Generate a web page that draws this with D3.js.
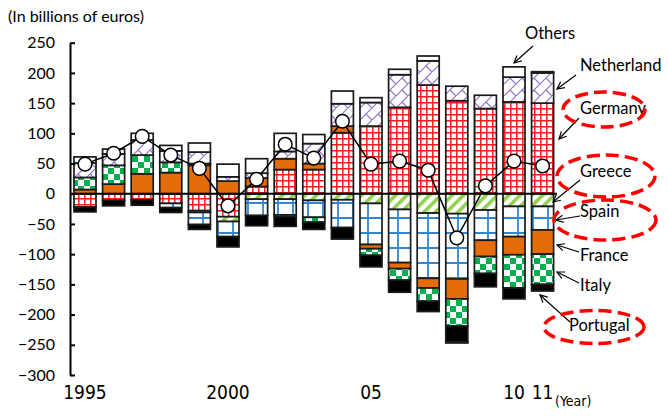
<!DOCTYPE html>
<html>
<head>
<meta charset="utf-8">
<script src="https://cdn.jsdelivr.net/npm/d3@7"></script>
<style>
  body { margin: 0; background: #fff; }
  svg { display: block; }
</style>
</head>
<body>
<svg id="chart" width="668" height="417"></svg>
<script>
// Balances by country, billions of euros
const years      = [1995, 1996, 1997, 1998, 1999, 2000, 2001, 2002, 2003, 2004, 2005, 2006, 2007, 2008, 2009, 2010, 2011];
const germany    = [-22, -11, -10, -16, -28, -38,  12,  40,  40, 101, 112, 143, 180, 154, 141, 152, 150];
const greece     = [  0,   0,   0,   0,  -3,  -8,  -9,  -9, -11, -10, -16, -26, -32, -33, -27, -21, -21];
const spain      = [  0,   0,   0,  -7, -20, -25, -27, -26, -28, -46, -68, -88,-108,-108, -50, -50, -39];
const france     = [  7,  16,  33,  35,  47,  21,  14,  18,  10,  11,  -7, -10, -16, -33, -27, -30, -40];
const italy      = [ 20,  31,  31,  17,   3,   0,   0,  -3,  -8,   0, -11, -19, -22, -45, -28, -55, -50];
const portugal   = [ -8,  -9,  -9,  -8,  -8, -17, -17, -16, -12, -19, -19, -20, -17, -26, -22, -18, -11];
const netherland = [ 24,  19,  25,  19,  19,   7,   8,  12,  33,  37,  39,  54,  40,  24,  22,  41,  50];
const others     = [ 10,   8,  11,   9,  15,  21,  24,  30,  15,  21,   8,   9,   8,  -2,   0,  17,   2];
const total      = [ 49,  67,  95,  64,  42, -20,  24,  82,  59, 120,  49,  54,  39, -73,  13,  54,  46];

const yTicks       = [250, 200, 150, 100, 50, 0, -50, -100, -150, -200, -250, -300];
const xLabelYears  = [1995, 2000, 2005, 2010, 2011];
const xLabelText   = ["1995", "2000", "05", "10", "11"];

const keys = ["Germany", "Greece", "Spain", "France", "Italy", "Portugal", "Netherland", "Others"];
const valuesByKey = {
  Germany: germany, Greece: greece, Spain: spain, France: france,
  Italy: italy, Portugal: portugal, Netherland: netherland, Others: others
};

const rows = years.map((yr, i) => {
  const r = { year: yr, total: total[i] };
  keys.forEach(k => { r[k] = valuesByKey[k][i]; });
  return r;
});

const svg = d3.select("#chart");

// ---------- fill patterns ----------
const defs = svg.append("defs");

function pattern(id, w, h, transform) {
  const p = defs.append("pattern")
    .attr("id", id)
    .attr("patternUnits", "userSpaceOnUse")
    .attr("width", w).attr("height", h);
  if (transform) p.attr("patternTransform", transform);
  p.append("rect").attr("width", w).attr("height", h).attr("fill", "#fff");
  return p;
}

// red grid
pattern("pat-germany", 6, 6)
  .append("path").attr("d", "M0,0.8H6M0.8,0V6")
  .attr("stroke", "#FF1A1A").attr("stroke-width", 1.5).attr("fill", "none");

// purple diagonal brick
pattern("pat-netherland", 12, 12)
  .append("path").attr("d", "M-1,13L13,-1M6,6L12,12M0,0L-1,-1")
  .attr("stroke", "#9473CA").attr("stroke-width", 1.2).attr("fill", "none");

// light green wide diagonal stripes
pattern("pat-greece", 8, 8, "rotate(45)")
  .append("rect").attr("x", 0).attr("y", 0).attr("width", 3.6).attr("height", 8)
  .attr("fill", "#92D050");

// blue grid
pattern("pat-spain", 15, 15)
  .append("path").attr("d", "M0,8H15M8,0V15")
  .attr("stroke", "#3385D0").attr("stroke-width", 1.8).attr("fill", "none");

// green checker
const pIt = pattern("pat-italy", 12, 12);
pIt.append("rect").attr("x", 0).attr("y", 0).attr("width", 6).attr("height", 6).attr("fill", "#00B050");
pIt.append("rect").attr("x", 6).attr("y", 6).attr("width", 6).attr("height", 6).attr("fill", "#00B050");

const fills = {
  Germany: "url(#pat-germany)",
  Greece: "url(#pat-greece)",
  Spain: "url(#pat-spain)",
  France: "#E46C0A",
  Italy: "url(#pat-italy)",
  Portugal: "#000",
  Netherland: "url(#pat-netherland)",
  Others: "#fff"
};

// ---------- scales ----------
const x = d3.scaleBand()
  .domain(years)
  .range([70.7, 556.9])
  .paddingInner(0.23)
  .paddingOuter(0.115);

const y = d3.scaleLinear()
  .domain([-300, 250])
  .range([375, 42.7]);

// ---------- stacked bars ----------
const stacked = d3.stack().keys(keys).offset(d3.stackOffsetDiverging)(rows);

svg.append("g").attr("class", "bars")
  .selectAll("g")
  .data(stacked)
  .join("g")
    .attr("fill", s => fills[s.key])
  .selectAll("rect")
  .data(s => s.filter(d => d[1] !== d[0]))
  .join("rect")
    .attr("x", d => x(d.data.year))
    .attr("width", x.bandwidth())
    .attr("y", d => y(Math.max(d[0], d[1])))
    .attr("height", d => Math.abs(y(d[0]) - y(d[1])))
    .attr("stroke", "#1a1a1a")
    .attr("stroke-width", 1.7);

// zero line
svg.append("line")
  .attr("x1", 70).attr("x2", 557)
  .attr("y1", y(0)).attr("y2", y(0))
  .attr("stroke", "#000").attr("stroke-width", 2);

// ---------- y axis ----------
const yAxis = svg.append("g")
  .attr("transform", "translate(70,0)")
  .call(d3.axisLeft(y).tickValues(yTicks).tickSize(-5).tickSizeOuter(0).tickPadding(15));
yAxis.select(".domain").attr("stroke", "#000").attr("stroke-width", 2);
yAxis.selectAll(".tick line").attr("stroke", "#000").attr("stroke-width", 2);
yAxis.selectAll(".tick text")
  .attr("font-family", "Lato, 'Open Sans', sans-serif")
  .attr("font-size", 16)
  .attr("fill", "#000");

// ---------- x labels ----------
const xAxis = svg.append("g")
  .attr("transform", "translate(0,384)")
  .call(d3.axisBottom(x).tickValues(xLabelYears)
    .tickFormat(v => xLabelText[xLabelYears.indexOf(v)])
    .tickSize(0).tickPadding(0));
xAxis.select(".domain").remove();
xAxis.selectAll(".tick text")
  .attr("dy", "0.78em")
  .attr("font-family", "'Liberation Sans Narrow', 'DejaVu Sans Condensed', sans-serif")
  .attr("font-size", 19)
  .attr("fill", "#000");

svg.append("text")
  .attr("x", 555).attr("y", 406)
  .attr("font-family", "'Liberation Sans Narrow', 'DejaVu Sans Condensed', sans-serif")
  .attr("font-size", 14)
  .text("(Year)");

// unit label
svg.append("text")
  .attr("x", 8).attr("y", 22)
  .attr("font-family", "Lato, 'Open Sans', sans-serif")
  .attr("font-size", 16)
  .text("(In billions of euros)");

// ---------- total line ----------
const cx = d => x(d.year) + x.bandwidth() / 2;
svg.append("path")
  .datum(rows)
  .attr("fill", "none")
  .attr("stroke", "#000")
  .attr("stroke-width", 1.5)
  .attr("d", d3.line().x(cx).y(d => y(d.total)));

svg.append("g").selectAll("circle")
  .data(rows)
  .join("circle")
    .attr("cx", cx)
    .attr("cy", d => y(d.total))
    .attr("r", 6.8)
    .attr("fill", "#fff")
    .attr("stroke", "#000")
    .attr("stroke-width", 1.5);

// ---------- country annotations ----------
defs.append("marker")
  .attr("id", "arrow")
  .attr("viewBox", "0 0 10 10")
  .attr("refX", 9).attr("refY", 5)
  .attr("markerWidth", 9).attr("markerHeight", 9)
  .attr("markerUnits", "userSpaceOnUse")
  .attr("orient", "auto")
  .append("path")
    .attr("d", "M1,1L9,5L1,9")
    .attr("fill", "none").attr("stroke", "#000").attr("stroke-width", 1.3);

const notes = [
  { name: "Others",     tx: 525, ty: 39,  from: [533, 46],  to: [514, 63] },
  { name: "Netherland", tx: 580, ty: 71,  from: [576, 75],  to: [557, 89] },
  { name: "Germany",    tx: 580, ty: 114, from: [579, 118], to: [559, 139] },
  { name: "Greece",     tx: 580, ty: 177, from: [580, 180], to: [553, 202] },
  { name: "Spain",      tx: 580, ty: 217, from: [580, 216], to: [556, 220] },
  { name: "France",     tx: 580, ty: 261, from: [579, 252], to: [557, 245] },
  { name: "Italy",      tx: 580, ty: 291, from: [579, 283], to: [557, 272] },
  { name: "Portugal",   tx: 569, ty: 331, from: [570, 322], to: [540, 295] }
];

const ann = svg.append("g").attr("class", "annotations");
ann.selectAll("line")
  .data(notes)
  .join("line")
    .attr("x1", d => d.from[0]).attr("y1", d => d.from[1])
    .attr("x2", d => d.to[0]).attr("y2", d => d.to[1])
    .attr("stroke", "#000").attr("stroke-width", 1.2)
    .attr("marker-end", "url(#arrow)");

ann.selectAll("text")
  .data(notes)
  .join("text")
    .attr("x", d => d.tx).attr("y", d => d.ty)
    .attr("font-family", "Lato, 'Open Sans', sans-serif")
    .attr("font-size", 16.5)
    .attr("fill", "#000")
    .text(d => d.name);

// highlighted countries
const rings = [
  { cx: 604, cy: 109.5, rx: 41, ry: 17.5 },
  { cx: 606, cy: 176,   rx: 49, ry: 21 },
  { cx: 605, cy: 220,   rx: 51, ry: 20 },
  { cx: 594, cy: 327,   rx: 50, ry: 16.5 }
];
ann.selectAll("ellipse")
  .data(rings)
  .join("ellipse")
    .attr("cx", d => d.cx).attr("cy", d => d.cy)
    .attr("rx", d => d.rx).attr("ry", d => d.ry)
    .attr("fill", "none")
    .attr("stroke", "#FF0000")
    .attr("stroke-width", 3.5)
    .attr("stroke-dasharray", "13,6");
</script>
</body>
</html>
